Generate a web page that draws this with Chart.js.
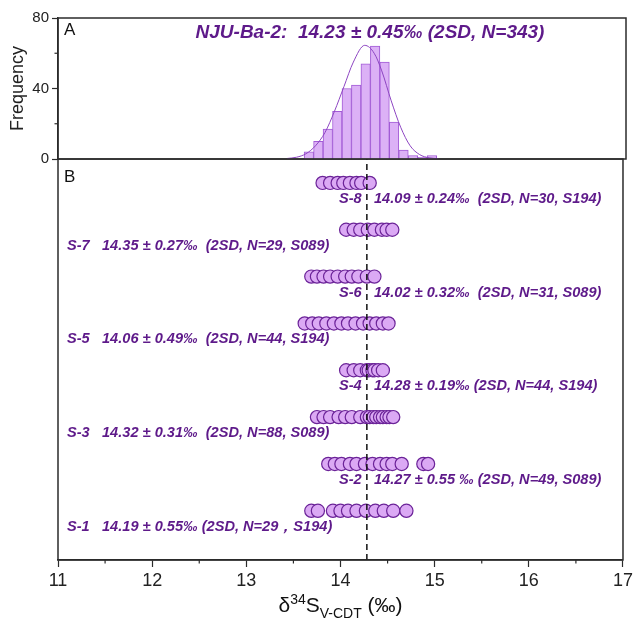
<!DOCTYPE html>
<html>
<head>
<meta charset="utf-8">
<script src="https://cdn.jsdelivr.net/npm/chart.js@4.4.1/dist/chart.umd.min.js"></script>
<style>
  html, body { margin: 0; padding: 0; background: #fff; }
  #wrap { position: relative; width: 636px; height: 620px; }
  #wrap canvas { position: absolute; left: 0; top: 0; }
</style>
</head>
<body>
<div id="wrap">
  <canvas id="rows" width="636" height="620"></canvas>
  <canvas id="hist" width="636" height="172"></canvas>
</div>
<script>
// histogram (panel A)
const binCenters = [13.65, 13.75, 13.85, 13.95, 14.05, 14.15, 14.25, 14.35, 14.45, 14.55, 14.65, 14.75, 14.85, 14.95];
const binCounts = [4, 10, 17, 27, 40, 42, 54, 64, 55, 21, 5, 2, 1, 2];
const fitX = [13.42, 13.52, 13.62, 13.72, 13.82, 13.92, 14.02, 14.12, 14.24, 14.34, 14.42, 14.52, 14.62, 14.72, 14.82, 14.92, 15.02];
const fitY = [0.3, 1, 3, 7.5, 15, 27, 41, 55, 64.5, 60, 50, 33, 18, 7.5, 2.5, 0.7, 0.2];
const freqTicks = [0, 40, 80];
const titleA = 'NJU-Ba-2:  14.23 ± 0.45‰ (2SD, N=343)';

// single analyses (panel B), S-1 .. S-8
const sampleNames = ['S-1', 'S-2', 'S-3', 'S-4', 'S-5', 'S-6', 'S-7', 'S-8'];
const sampleStats = [
    '14.19 ± 0.55‰ (2SD, N=29，S194)',
    '14.27 ± 0.55 ‰ (2SD, N=49, S089)',
    '14.32 ± 0.31‰  (2SD, N=88, S089)',
    '14.28 ± 0.19‰ (2SD, N=44, S194)',
    '14.06 ± 0.49‰  (2SD, N=44, S194)',
    '14.02 ± 0.32‰  (2SD, N=31, S089)',
    '14.35 ± 0.27‰  (2SD, N=29, S089)',
    '14.09 ± 0.24‰  (2SD, N=30, S194)'
];
const s1 = [13.69, 13.76, 13.92, 14.00, 14.08, 14.17, 14.27, 14.37, 14.46, 14.56, 14.70];
const s2 = [13.87, 13.94, 14.01, 14.10, 14.17, 14.26, 14.34, 14.42, 14.49, 14.55, 14.65, 14.88, 14.93];
const s3 = [13.75, 13.82, 13.89, 13.98, 14.05, 14.12, 14.21, 14.28, 14.31, 14.35, 14.38, 14.42, 14.45, 14.49, 14.52, 14.56];
const s4 = [14.06, 14.14, 14.21, 14.28, 14.30, 14.34, 14.36, 14.40, 14.45];
const s5 = [13.62, 13.70, 13.77, 13.85, 13.93, 14.01, 14.08, 14.16, 14.24, 14.31, 14.38, 14.45, 14.51];
const s6 = [13.69, 13.75, 13.82, 13.89, 13.97, 14.05, 14.12, 14.19, 14.28, 14.36];
const s7 = [14.06, 14.14, 14.21, 14.29, 14.36, 14.44, 14.49, 14.55];
const s8 = [13.81, 13.89, 13.97, 14.03, 14.10, 14.17, 14.22, 14.31];
const sampleValues = [s1, s2, s3, s4, s5, s6, s7, s8];
const refValue = 14.28;

const FONT = '"Liberation Sans", Arial, sans-serif';
const PURPLE_TXT = '#5e1a8a';
const AXIS = '#2b2b2b';

// box around the plot area
const frame = {
    id: 'frame',
    afterDatasetsDraw(chart) {
        const { ctx, chartArea: a } = chart;
        ctx.save();
        ctx.strokeStyle = AXIS;
        ctx.lineWidth = 1.5;
        ctx.strokeRect(a.left, a.top, a.right - a.left, a.bottom - a.top);
        ctx.restore();
    }
};

// short minor ticks
const minorTicks = {
    id: 'minorTicks',
    afterDraw(chart, args, opts) {
        const scale = chart.scales[opts.axis];
        const { ctx } = chart;
        ctx.save();
        ctx.strokeStyle = AXIS;
        ctx.lineWidth = 1.2;
        scale.ticks.forEach(t => {
            if (opts.isMajor(t.value)) return;
            const p = scale.getPixelForValue(t.value);
            ctx.beginPath();
            if (opts.axis === 'x') {
                ctx.moveTo(p, scale.top); ctx.lineTo(p, scale.top + 3.5);
            } else {
                ctx.moveTo(scale.right, p); ctx.lineTo(scale.right - 3.5, p);
            }
            ctx.stroke();
        });
        ctx.restore();
    }
};

const panelAText = {
    id: 'panelAText',
    afterDraw(chart) {
        const { ctx, chartArea: a } = chart;
        ctx.save();
        ctx.fillStyle = '#111';
        ctx.font = '17px ' + FONT;
        ctx.textBaseline = 'middle';
        ctx.fillText('A', a.left + 6, a.top + 12);
        ctx.fillStyle = PURPLE_TXT;
        ctx.font = 'italic bold 19px ' + FONT;
        ctx.textAlign = 'center';
        ctx.fillText(titleA, 370, a.top + 15);
        ctx.restore();
    }
};

const panelBText = {
    id: 'panelBText',
    afterDraw(chart) {
        const { ctx, chartArea: a, scales } = chart;
        ctx.save();
        ctx.fillStyle = '#111';
        ctx.font = '17px ' + FONT;
        ctx.textBaseline = 'middle';
        ctx.fillText('B', a.left + 6, a.top + 18);

        ctx.fillStyle = PURPLE_TXT;
        ctx.font = 'italic bold 14.6px ' + FONT;
        sampleNames.forEach((name, i) => {
            const y = scales.y.getPixelForValue(i + 1) + 16;
            const right = (i % 2 === 1);
            const x0 = right ? 339 : 67;
            ctx.fillText(name, x0, y);
            ctx.fillText(sampleStats[i], x0 + 35, y);
        });

        // axis title  δ34S V-CDT (‰)
        const cx = (a.left + a.right) / 2;
        const base = 612;
        const big = '21px ' + FONT, small = '14px ' + FONT;
        const parts = [
            { t: 'δ', f: big, dy: 0 },
            { t: '34', f: small, dy: -8 },
            { t: 'S', f: big, dy: 0 },
            { t: 'V-CDT', f: small, dy: 6 },
            { t: ' (‰)', f: big, dy: 0 }
        ];
        let w = 0;
        parts.forEach(p => { ctx.font = p.f; p.w = ctx.measureText(p.t).width; w += p.w; });
        let x = cx - w / 2;
        ctx.fillStyle = '#111';
        ctx.textBaseline = 'alphabetic';
        parts.forEach(p => {
            ctx.font = p.f;
            ctx.fillText(p.t, x, base + p.dy);
            x += p.w;
        });
        ctx.restore();
    }
};

new Chart(document.getElementById('hist'), {
    data: {
        datasets: [
            {
                type: 'line',
                data: fitX.map((x, i) => ({ x, y: fitY[i] })),
                borderColor: '#8d45c2',
                borderWidth: 1,
                pointRadius: 0,
                cubicInterpolationMode: 'monotone',
                order: 1
            },
            {
                type: 'bar',
                data: binCenters.map((x, i) => ({ x, y: binCounts[i] })),
                backgroundColor: '#dcb1f6',
                borderColor: '#a25bd6',
                borderWidth: 1,
                barPercentage: 1,
                categoryPercentage: 1,
                order: 2
            }
        ]
    },
    options: {
        responsive: false,
        animation: false,
        layout: { padding: { top: 18, right: 10, bottom: 13, left: 0 } },
        scales: {
            x: { type: 'linear', min: 11, max: 17, offset: false, display: false },
            y: {
                min: 0,
                max: 80,
                afterBuildTicks: s => { s.ticks = [0, 20, 40, 60, 80].map(v => ({ value: v })); },
                ticks: {
                    callback: v => freqTicks.includes(v) ? v : '',
                    font: { family: FONT, size: 15 },
                    color: '#222',
                    padding: 3
                },
                grid: {
                    drawOnChartArea: false,
                    tickLength: 6,
                    tickWidth: 1.2,
                    tickColor: c => freqTicks.includes(c.tick.value) ? AXIS : 'rgba(0,0,0,0)'
                },
                border: { color: AXIS, width: 1.5 },
                title: {
                    display: true,
                    text: 'Frequency',
                    font: { family: FONT, size: 18 },
                    color: '#222',
                    padding: { top: 7, bottom: 0 }
                },
                afterFit: s => { s.width = 58; }
            }
        },
        plugins: {
            legend: { display: false },
            tooltip: { enabled: false },
            minorTicks: { axis: 'y', isMajor: v => freqTicks.includes(v) }
        }
    },
    plugins: [frame, minorTicks, panelAText]
});

new Chart(document.getElementById('rows'), {
    type: 'scatter',
    data: {
        datasets: [
            {
                type: 'line',
                data: [{ x: refValue, y: -0.05 }, { x: refValue, y: 8.51 }],
                borderColor: '#111',
                borderWidth: 1.5,
                borderDash: [6, 4],
                pointRadius: 0,
                order: 0
            },
            ...sampleValues.map((vals, i) => ({
                data: vals.map(x => ({ x, y: i + 1 })),
                backgroundColor: '#dba9f4',
                borderColor: '#6b2398',
                borderWidth: 1.2,
                pointRadius: 6.6,
                order: 1
            }))
        ]
    },
    options: {
        responsive: false,
        animation: false,
        layout: { padding: { top: 159, right: 10, bottom: 0, left: 58 } },
        scales: {
            x: {
                type: 'linear',
                min: 11,
                max: 17,
                ticks: {
                    stepSize: 0.5,
                    callback: v => Number.isInteger(v) ? v : '',
                    font: { family: FONT, size: 18 },
                    color: '#222',
                    padding: 3,
                    maxRotation: 0,
                    autoSkip: false
                },
                grid: {
                    drawOnChartArea: false,
                    tickLength: 7,
                    tickWidth: 1.2,
                    tickColor: c => Number.isInteger(c.tick.value) ? AXIS : 'rgba(0,0,0,0)'
                },
                border: { color: AXIS, width: 1.5 },
                afterFit: s => { s.height = 60; }
            },
            y: { display: false, min: -0.05, max: 8.51 }
        },
        plugins: {
            legend: { display: false },
            tooltip: { enabled: false },
            minorTicks: { axis: 'x', isMajor: v => Number.isInteger(v) }
        }
    },
    plugins: [frame, minorTicks, panelBText]
});
</script>
</body>
</html>
